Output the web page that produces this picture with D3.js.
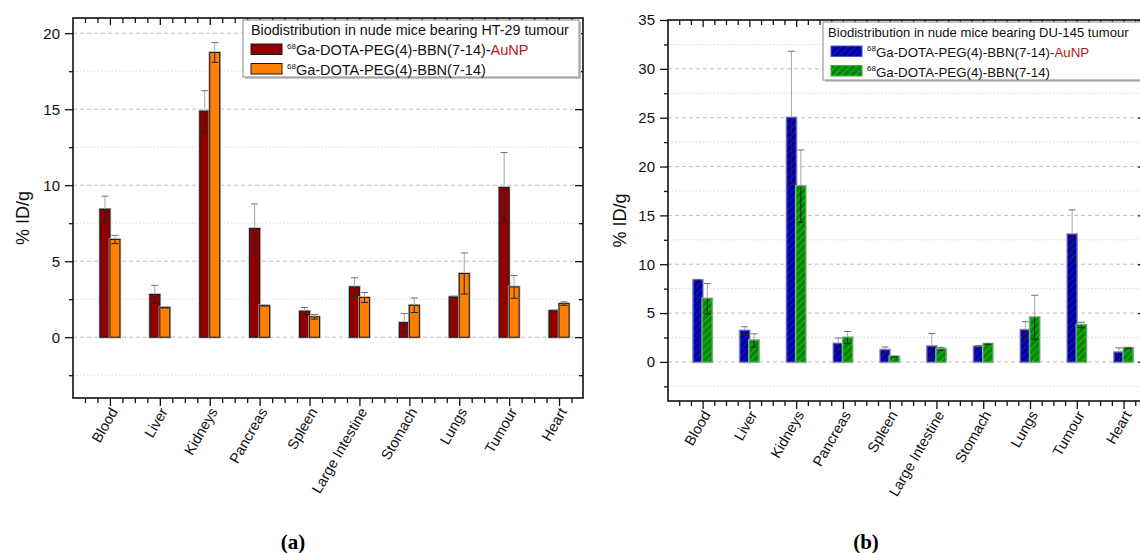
<!DOCTYPE html>
<html>
<head>
<meta charset="utf-8">
<script src="https://cdn.jsdelivr.net/npm/d3@7"></script>
<style>
  body { margin: 0; background: #fff; }
  svg { display: block; font-family: "Liberation Sans", Arial, sans-serif; }
</style>
</head>
<body>
<div id="chart"></div>
<script>
// organs, same order in both panels
const categories = ["Blood", "Liver", "Kidneys", "Pancreas", "Spleen", "Large Intestine", "Stomach", "Lungs", "Tumour", "Heart"];

// (a) HT-29 tumour
const htAuNP    = [8.42, 2.81, 14.87, 7.15, 1.71, 3.31, 0.96, 2.65, 9.85, 1.75];
const htAuNPErr = [0.86, 0.60, 1.35, 1.62, 0.24, 0.60, 0.60, 0.05, 2.30, 0.03];
const htFree    = [6.43, 1.95, 18.73, 2.08, 1.34, 2.61, 2.10, 4.19, 3.31, 2.21];
const htFreeErr = [0.27, 0.03, 0.65, 0.03, 0.15, 0.33, 0.48, 1.35, 0.75, 0.12];

// (b) DU-145 tumour
const duAuNP    = [8.38, 3.20, 25.0, 1.87, 1.23, 1.60, 1.57, 3.27, 13.06, 0.99];
const duAuNPErr = [0.03, 0.40, 6.80, 0.58, 0.30, 1.30, 0.12, 0.85, 2.50, 0.45];
const duFree    = [6.47, 2.21, 18.0, 2.49, 0.55, 1.33, 1.84, 4.57, 3.78, 1.43];
const duFreeErr = [1.55, 0.67, 3.70, 0.62, 0.03, 0.15, 0.04, 2.25, 0.28, 0.05];

const leftTicks  = [0, 5, 10, 15, 20];
const rightTicks = [0, 5, 10, 15, 20, 25, 30, 35];

const W = 1140, H = 553;
const svg = d3.select("#chart").append("svg")
  .attr("width", W).attr("height", H);

const defs = svg.append("defs");
function hatch(id, bg, line) {
  const p = defs.append("pattern").attr("id", id)
    .attr("patternUnits", "userSpaceOnUse")
    .attr("width", 5).attr("height", 5)
    .attr("patternTransform", "rotate(45)");
  p.append("rect").attr("width", 5).attr("height", 5).attr("fill", bg);
  p.append("line").attr("x1", 0).attr("y1", 0).attr("x2", 0).attr("y2", 5)
    .attr("stroke", line).attr("stroke-width", 1.6);
}
hatch("hBlue", "#0000a4", "#1c1cc0");
hatch("hGreen", "#008a00", "#3cb43c");

function drawPanel(p) {
  const g = svg.append("g");
  const x = d3.scaleLinear().domain([0.26, 10.48]).range([p.left, p.right]);
  const y = d3.scaleLinear().domain(p.yDomain).range([p.bottom, p.top]);

  const minorY = d3.range(p.yDomain[0] + 1.5, p.yDomain[1], 5);
  const minorX = d3.range(0.5, 10.48, 0.25).filter(d => d % 1 !== 0);
  const majorX = d3.range(1, 11);

  // gridlines
  g.selectAll(".gmaj").data(p.ticks.filter(d => y(d) > p.top + 1)).join("line")
    .attr("x1", p.left).attr("x2", p.right)
    .attr("y1", d => y(d)).attr("y2", d => y(d))
    .attr("stroke", "#b0b0b0").attr("stroke-dasharray", "4,3").attr("stroke-width", 0.8);
  g.selectAll(".gmin").data(minorY.filter(d => d > p.yDomain[0])).join("line")
    .attr("x1", p.left).attr("x2", p.right)
    .attr("y1", d => y(d)).attr("y2", d => y(d))
    .attr("stroke", "#cfcfcf").attr("stroke-dasharray", "1.5,2").attr("stroke-width", 0.8);

  // bars
  const series = [
    { vals: p.a, errs: p.aErr, off: -0.2, fill: p.fillA, stroke: p.strokeA },
    { vals: p.b, errs: p.bErr, off: 0, fill: p.fillB, stroke: p.strokeB }
  ];
  const bw = x(0.46) - x(0.26);
  series.forEach(s => {
    const bars = g.append("g");
    bars.selectAll(".halo").data(s.vals).join("rect")
      .attr("x", (d, i) => x(i + 1 + s.off)).attr("width", bw)
      .attr("y", d => y(d)).attr("height", d => y(0) - y(d))
      .attr("fill", "none").attr("stroke", "#b0b0b0").attr("stroke-width", 2.5);
    bars.selectAll(".bar").data(s.vals).join("rect")
      .attr("x", (d, i) => x(i + 1 + s.off)).attr("width", bw)
      .attr("y", d => y(d)).attr("height", d => y(0) - y(d))
      .attr("fill", s.fill).attr("stroke", s.stroke).attr("stroke-width", 1);

    // error bars: light above the bar, dark inside it
    const eb = g.append("g");
    s.vals.forEach((v, i) => {
      const cx = x(i + 1 + s.off + 0.1), e = s.errs[i];
      eb.append("line").attr("x1", cx).attr("x2", cx)
        .attr("y1", y(v)).attr("y2", y(v + e))
        .attr("stroke", "#a8a8a8").attr("stroke-width", 1);
      eb.append("line").attr("x1", cx - 3.5).attr("x2", cx + 3.5)
        .attr("y1", y(v + e)).attr("y2", y(v + e))
        .attr("stroke", "#707070").attr("stroke-width", 1);
      eb.append("line").attr("x1", cx).attr("x2", cx)
        .attr("y1", y(v)).attr("y2", y(v - e))
        .attr("stroke", "#222").attr("stroke-width", 1);
      eb.append("line").attr("x1", cx - 3.5).attr("x2", cx + 3.5)
        .attr("y1", y(v - e)).attr("y2", y(v - e))
        .attr("stroke", "#222").attr("stroke-width", 1);
    });
  });

  // axes
  const ax = g.append("g").attr("class", "axes");
  ax.append("g").attr("transform", `translate(${p.left},0)`)
    .call(d3.axisLeft(y).tickValues(p.ticks).tickSize(8).tickPadding(5));
  ax.append("g").attr("transform", `translate(${p.left},0)`)
    .call(d3.axisLeft(y).tickValues(minorY).tickSize(4).tickFormat(""));
  ax.append("g").attr("transform", `translate(${p.right},0)`)
    .call(d3.axisLeft(y).tickValues(p.ticks).tickSize(8).tickFormat(""));
  ax.append("g").attr("transform", `translate(${p.right},0)`)
    .call(d3.axisLeft(y).tickValues(minorY).tickSize(4).tickFormat(""));
  ax.append("g").attr("transform", `translate(0,${p.bottom})`)
    .call(d3.axisBottom(x).tickValues(majorX).tickSize(8).tickFormat(""));
  ax.append("g").attr("transform", `translate(0,${p.bottom})`)
    .call(d3.axisBottom(x).tickValues(minorX).tickSize(5).tickFormat(""));
  ax.append("g").attr("transform", `translate(0,${p.top})`)
    .call(d3.axisBottom(x).tickValues(majorX).tickSize(7).tickFormat(""));
  ax.append("g").attr("transform", `translate(0,${p.top})`)
    .call(d3.axisBottom(x).tickValues(minorX).tickSize(5).tickFormat(""));
  ax.selectAll(".domain").remove();
  ax.selectAll("line").attr("stroke", "#111").attr("stroke-width", 1.3);
  ax.selectAll("text").attr("font-size", 15).attr("fill", "#111")
    .attr("font-family", "'Liberation Sans', Arial, sans-serif");

  g.append("rect").attr("x", p.left).attr("y", p.top)
    .attr("width", p.right - p.left).attr("height", p.bottom - p.top)
    .attr("fill", "none").attr("stroke", "#111").attr("stroke-width", 1.6);

  // category labels
  g.selectAll(".cat").data(categories).join("text")
    .attr("transform", (d, i) => `translate(${x(i + 1) + 4},${p.bottom + 11}) rotate(-60)`)
    .attr("text-anchor", "end").attr("dy", "0.35em")
    .attr("font-size", 14.5).attr("fill", "#111")
    .text(d => d);

  g.append("text")
    .attr("transform", `translate(${p.yLabelX},${(p.top + p.bottom) / 2 + 10}) rotate(-90)`)
    .attr("text-anchor", "middle").attr("font-size", 18).attr("fill", "#111")
    .text("% ID/g");

  // legend
  const lg = g.append("g").attr("transform", `translate(${p.legX},${p.legY})`);
  lg.append("rect").attr("x", 2).attr("y", 2).attr("width", p.legW).attr("height", p.legH)
    .attr("fill", "#c8c8c8");
  lg.append("rect").attr("width", p.legW).attr("height", p.legH)
    .attr("fill", "#fff").attr("stroke", "#888").attr("stroke-width", 1);
  lg.append("text").attr("x", p.titleX).attr("y", 14.5).attr("font-size", p.titleSize).attr("fill", "#111")
    .text(p.title);
  const entries = [
    { fill: p.fillA, stroke: p.strokeA, au: true },
    { fill: p.fillB, stroke: p.strokeB, au: false }
  ];
  entries.forEach((e, i) => {
    const yy = 24 + i * 19.5;
    lg.append("rect").attr("x", 8).attr("y", yy).attr("width", 31).attr("height", 10.5)
      .attr("fill", e.fill).attr("stroke", e.stroke).attr("stroke-width", 1);
    const t = lg.append("text").attr("x", 44).attr("y", yy + 11)
      .attr("font-size", p.entrySize).attr("fill", "#111");
    t.append("tspan").attr("font-size", 8).attr("dy", -6).text("68");
    t.append("tspan").attr("dy", 6).text("Ga-DOTA-PEG(4)-BBN(7-14)" + (e.au ? "-" : ""));
    if (e.au) t.append("tspan").attr("fill", "#c0141c").text("AuNP");
  });

  // panel caption
  svg.append("text").attr("x", p.capX).attr("y", 549)
    .attr("text-anchor", "middle").attr("font-size", 21).attr("font-weight", "bold")
    .attr("font-family", "'Liberation Serif', 'Times New Roman', serif")
    .text(p.caption);
}

drawPanel({
  left: 73, right: 583, top: 18, bottom: 398, yDomain: [-4, 21], ticks: leftTicks,
  a: htAuNP, aErr: htAuNPErr, b: htFree, bErr: htFreeErr,
  fillA: "#900000", strokeA: "#1a1a1a", fillB: "#ff8000", strokeB: "#1a1a1a",
  yLabelX: 29, legX: 243, legY: 20, legW: 336, legH: 57,
  title: "Biodistribution in nude mice bearing HT-29 tumour", titleX: 8, titleSize: 14.3, entrySize: 14.5,
  caption: "(a)", capX: 293
});

drawPanel({
  left: 668, right: 1146, top: 20, bottom: 401, yDomain: [-4, 35], ticks: rightTicks,
  a: duAuNP, aErr: duAuNPErr, b: duFree, bErr: duFreeErr,
  fillA: "url(#hBlue)", strokeA: "#5050c8", fillB: "url(#hGreen)", strokeB: "#40b040",
  yLabelX: 626, legX: 823, legY: 22, legW: 320, legH: 58,
  title: "Biodistribution in nude mice bearing DU-145 tumour", titleX: 5, titleSize: 13.1, entrySize: 13.3,
  caption: "(b)", capX: 866
});
</script>
</body>
</html>
